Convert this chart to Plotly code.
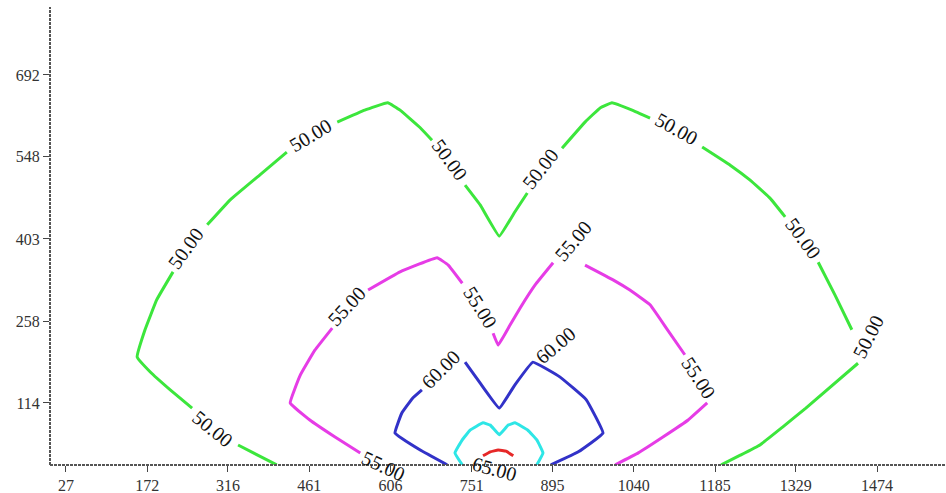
import plotly.graph_objects as go

# Axis ticks
x_tickvals = [27, 172, 316, 461, 606, 751, 895, 1040, 1185, 1329, 1474]
x_ticktext = ["27", "172", "316", "461", "606", "751", "895", "1040", "1185", "1329", "1474"]
y_tickvals = [114, 258, 403, 548, 692]
y_ticktext = ["114", "258", "403", "548", "692"]

# Contour lines (None = gap where a label sits)
green_x = [403, 369, 334, None, 252, 213, 177, 154, 168, 189, 218, None, 279, 320, 373, 421, None,
           511, 560, 601, 623, 659, 680, None, 739, 766, 800, 828, 850, None,
           912, 953, 980, 1001, 1037, 1069, None, 1162, 1212, 1247, 1283, 1310, None,
           1369, 1399, 1429, None, 1440, 1347, 1306, 1265, 1230, 1196]
green_y = [5, 22, 40, None, 105, 137, 169, 195, 243, 296, 345, None, 428, 472, 516, 556, None,
           609, 630, 643, 630, 599, 577, None, 498, 463, 408, 451, 484, None,
           563, 609, 634, 643, 630, 616, None, 565, 533, 507, 475, 442, None,
           362, 304, 243, None, 184, 105, 72, 40, 22, 5]

magenta_x = [552, 507, 462, 427, 445, 471, 502, None, 566, 623, 689, 709, 734, None,
             789, 798, 819, 837, 864, 896, None, 953, 1003, 1033, 1069, 1098, 1131, None,
             1171, 1137, 1092, 1048, 1007]
magenta_y = [26, 54, 84, 114, 163, 207, 246, None, 313, 345, 370, 357, 325, None,
             237, 216, 251, 281, 322, 361, None, 357, 331, 313, 287, 246, 199, None,
             114, 84, 54, 26, 5]

blue_x = [707, 659, 614, 626, 645, 662, None, 739, 766, 800, 828, 860, 908, 955, 985, 941, 892]
blue_y = [5, 31, 61, 96, 122, 137, None, 186, 149, 105, 146, 186, 160, 120, 61, 28, 5]

cyan_x = [734, 721, 734, 748, 771, 784, 800, 816, 828, 851, 867, 878, 867]
cyan_y = [5, 26, 49, 66, 79, 75, 58, 75, 79, 66, 49, 26, 5]

red_x = [771, 784, 798, 812, 825]
red_y = [21, 28, 31, 29, 21]

# Contour labels
label_text = ["50.00"] * 8 + ["55.00"] * 5 + ["60.00"] * 2 + ["65.00"]
label_x = [289, 241, 464, 712, 873, 1117, 1342, 1458,
           528, 766, 932, 1156, 594,
           696, 901,
           792]
label_y = [68, 387, 586, 542, 526, 597, 405, 230,
           285, 283, 399, 158, 5,
           174, 216,
           5]
label_angle = [39, -54, -31, 54, -52, 29, 54, -63,
               -47, 58, -50, 57, 25,
               -45, -40,
               15]
label_dy = [0] * 12 + [-1] + [0, 0] + [-4]

fig = go.Figure()
for xs, ys, col in [(green_x, green_y, "#3ce63c"),
                    (magenta_x, magenta_y, "#e63ce6"),
                    (blue_x, blue_y, "#3232c8"),
                    (cyan_x, cyan_y, "#2ee6e6"),
                    (red_x, red_y, "#e62828")]:
    fig.add_trace(go.Scatter(x=xs, y=ys, mode="lines", connectgaps=False,
                             line=dict(color=col, width=3, shape="spline", smoothing=0.25),
                             hoverinfo="skip", showlegend=False, cliponaxis=True))

for t, x, y, a, dy in zip(label_text, label_x, label_y, label_angle, label_dy):
    fig.add_annotation(x=x, y=y, text=t, showarrow=False, textangle=a, yshift=dy,
                       font=dict(family="Liberation Serif", size=20, color="#111"))

fig.update_layout(
    width=946, height=493,
    margin=dict(l=50, r=0, t=7, b=28),
    paper_bgcolor="white", plot_bgcolor="white",
    showlegend=False,
    xaxis=dict(range=[-1.5, 1597], tickvals=x_tickvals, ticktext=x_ticktext,
               ticks="outside", ticklen=6, tickcolor="#444", tickwidth=1,
               showgrid=False, zeroline=False, showline=False,
               tickfont=dict(family="Liberation Serif", size=16, color="#333")),
    yaxis=dict(range=[4.7, 811.8], tickvals=y_tickvals, ticktext=y_ticktext,
               ticks="outside", ticklen=6, tickcolor="#444", tickwidth=1,
               showgrid=False, zeroline=False, showline=False,
               tickfont=dict(family="Liberation Serif", size=16, color="#333")),
    shapes=[
        dict(type="line", xref="paper", yref="paper", x0=0, x1=1, y0=0, y1=0,
             line=dict(color="#555", width=2, dash="3px,1px")),
        dict(type="line", xref="paper", yref="paper", x0=0, x1=0, y0=0, y1=1,
             line=dict(color="#555", width=2, dash="3px,1px")),
    ],
)

fig.write_html("out.html", config={"displayModeBar": False},
               post_script="document.body.style.margin='0';document.body.style.overflow='hidden';")
